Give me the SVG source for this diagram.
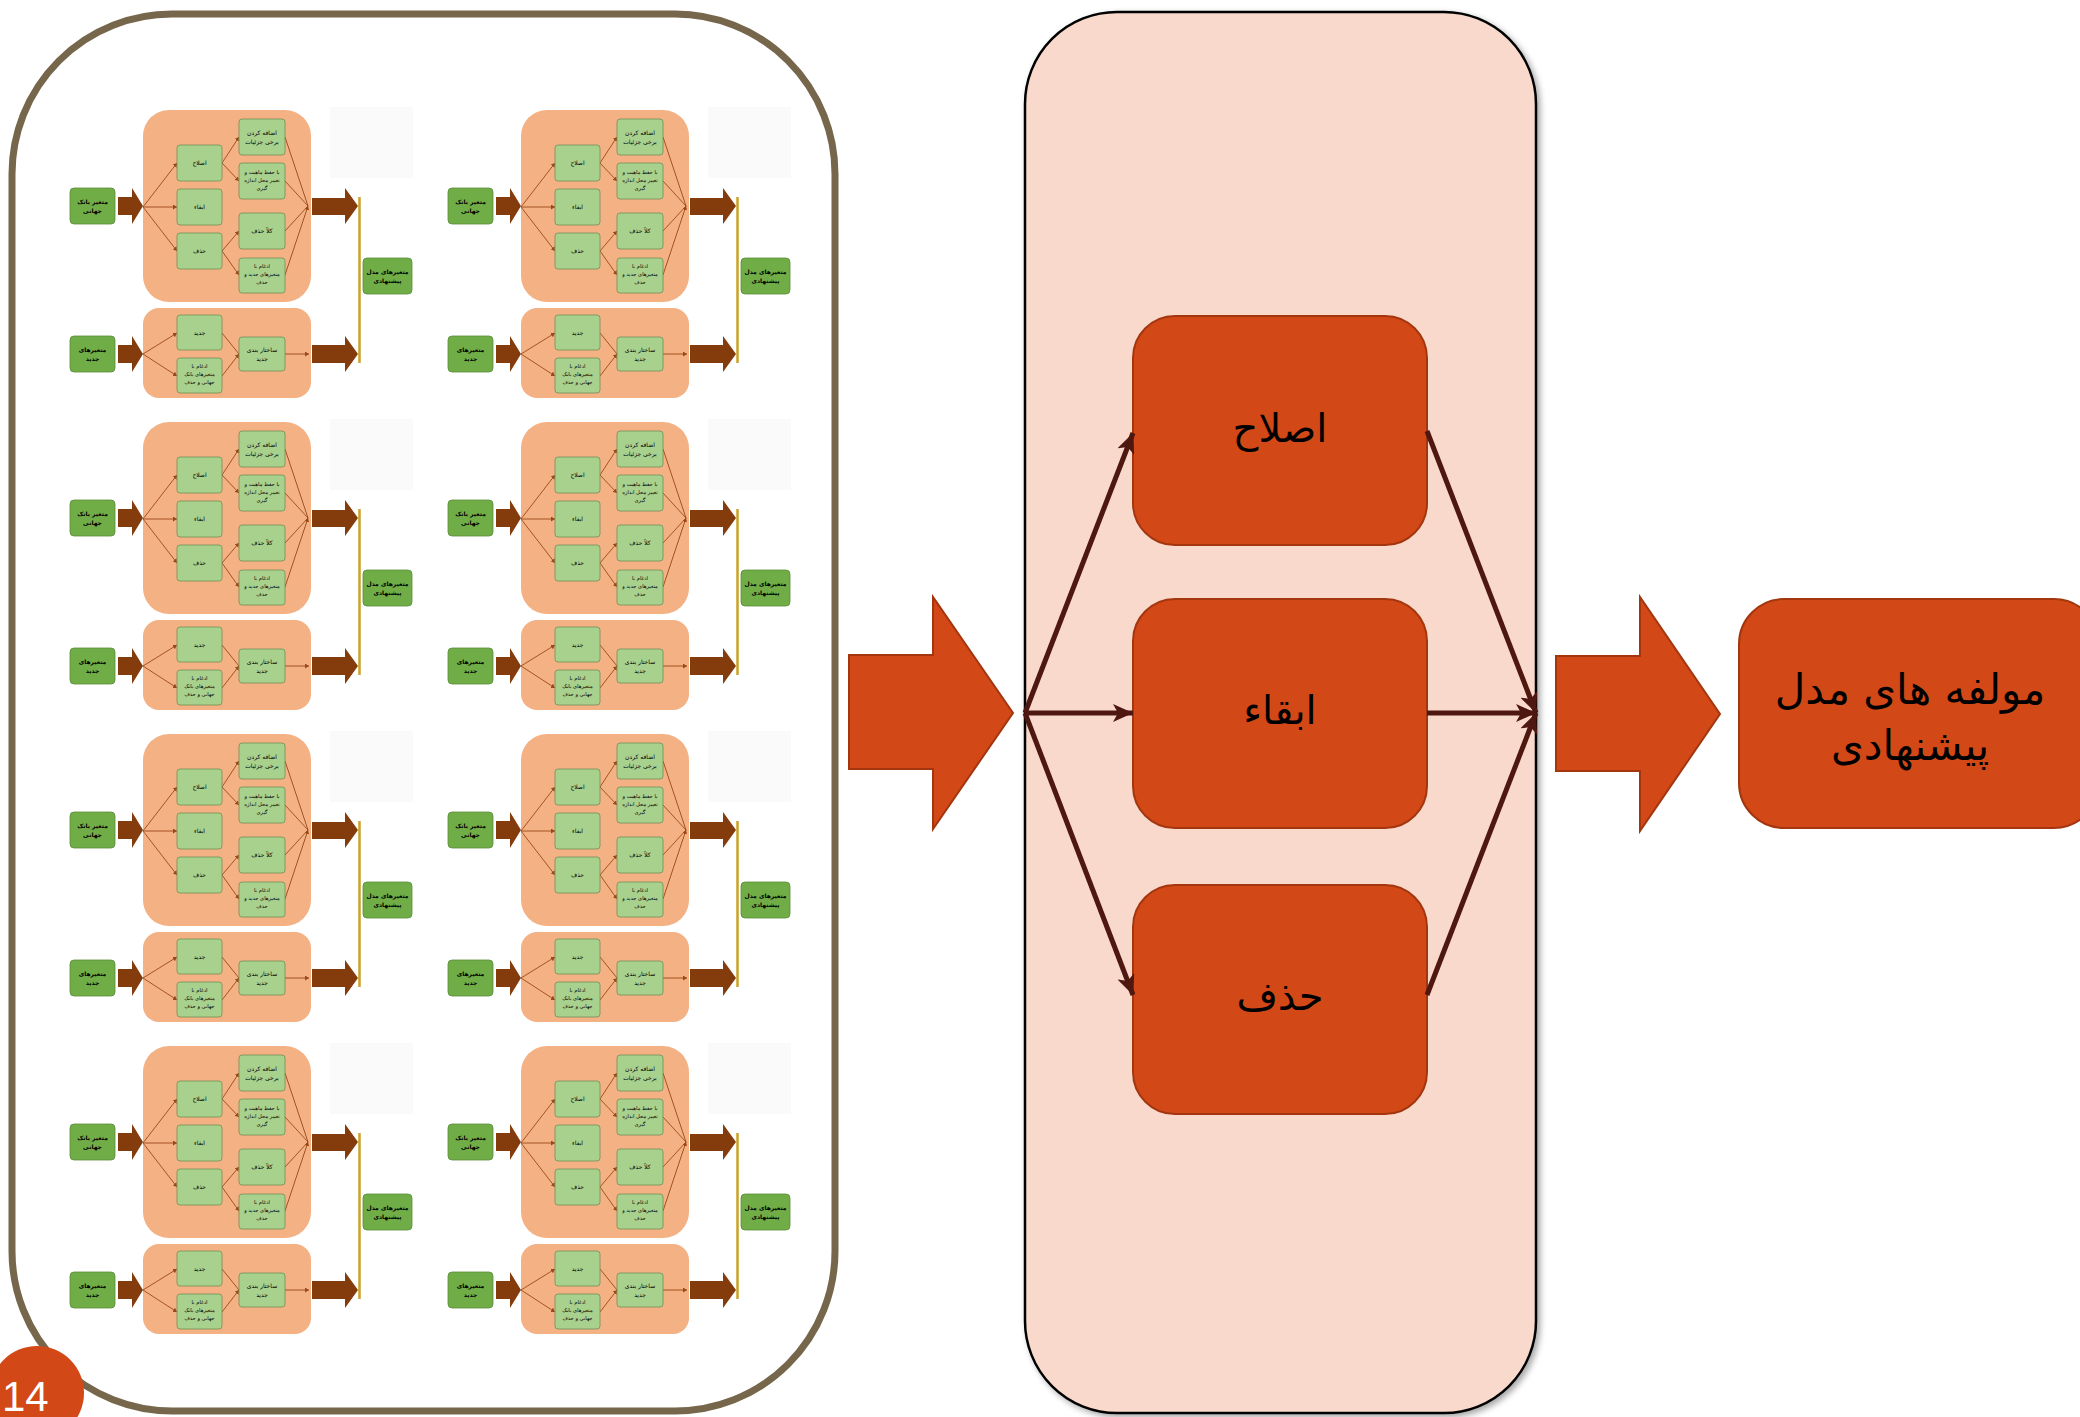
<svg xmlns="http://www.w3.org/2000/svg" xmlns:xlink="http://www.w3.org/1999/xlink" width="2080" height="1417" viewBox="0 0 2080 1417">
<style>
.fa{font-family:"DejaVu Sans","Noto Sans",sans-serif;text-anchor:middle;fill:#000}
.mt{font-size:6px}
.ms{font-size:5.2px}
.mb{font-size:6px;font-weight:bold}
.peach{fill:#F4B183}
.g1{fill:#A9D18E;stroke:#6E8F55;stroke-width:0.8}
.g2{fill:#70AD47;stroke:#5B8C3A;stroke-width:0.8}
.barrow{fill:#843C0C}
.ml{stroke:#9A4818;stroke-width:0.9;fill:none;marker-end:url(#ma)}
.ml0{stroke:#9A4818;stroke-width:0.9;fill:none}
.big{fill:#D34817;stroke:#A3360F;stroke-width:2}
.conn{stroke:#4E1710;stroke-width:5;fill:none;marker-end:url(#ba)}
.lbl{font-family:"DejaVu Sans","Noto Sans",sans-serif;text-anchor:middle;fill:#000;font-size:40px}
</style>
<defs>
<marker id="ma" markerUnits="userSpaceOnUse" markerWidth="5" markerHeight="5" refX="4" refY="2.5" orient="auto">
<path d="M0,0 L4,2.5 L0,5 Z" fill="#9A4818"/>
</marker>
<marker id="ba" markerUnits="userSpaceOnUse" markerWidth="22" markerHeight="18" refX="20" refY="9" orient="auto">
<path d="M0,0 L20,9 L0,18 L5,9 Z" fill="#4E1710"/>
</marker>
<filter id="sh" x="-5%" y="-5%" width="112%" height="112%">
<feDropShadow dx="3" dy="3" stdDeviation="3" flood-color="#000" flood-opacity="0.35"/>
</filter>
<g id="mini">
<rect x="330" y="107" width="83" height="71" fill="#fafafa"/>
<rect class="peach" x="143" y="110" width="168" height="192" rx="26"/>
<rect class="peach" x="143" y="308" width="168" height="90" rx="16"/>
<g class="ml">
<path class="ml" d="M143,207 L177,163"/>
<path class="ml" d="M143,207 L177,207"/>
<path class="ml" d="M143,207 L177,251"/>
<path class="ml" d="M222,163 L239,137"/>
<path class="ml" d="M222,163 L239,181"/>
<path class="ml" d="M222,251 L239,231"/>
<path class="ml" d="M222,251 L239,275"/>
<path class="ml0" d="M285,137 L308,206 M285,181 L308,206 M285,231 L308,206 M285,275 L308,206"/>
<path class="ml" d="M143,354 L177,333"/>
<path class="ml" d="M143,354 L177,376"/>
<path class="ml0" d="M222,333 L239,354 M222,376 L239,354"/>
<path class="ml" d="M285,354 L309,354"/>
</g>
<polygon class="barrow" points="118,197 132,197 132,188 143,206 132,224 132,215 118,215"/>
<polygon class="barrow" points="312,198 345,198 345,188 358,206 345,224 345,215 312,215"/>
<polygon class="barrow" points="118,345 132,345 132,336 143,354 132,372 132,363 118,363"/>
<polygon class="barrow" points="312,345 345,345 345,336 358,354 345,372 345,363 312,363"/>
<line x1="359.5" y1="197" x2="359.5" y2="363" stroke="#C9A227" stroke-width="2.5"/>
<rect class="g2" x="70" y="188" width="45" height="36" rx="4"/>
<rect class="g2" x="70" y="336" width="45" height="36" rx="4"/>
<rect class="g2" x="363" y="258" width="49" height="36" rx="4"/>
<rect class="g1" x="177" y="145" width="45" height="36" rx="3"/>
<rect class="g1" x="177" y="189" width="45" height="36" rx="3"/>
<rect class="g1" x="177" y="233" width="45" height="36" rx="3"/>
<rect class="g1" x="239" y="119" width="46" height="36" rx="3"/>
<rect class="g1" x="239" y="163" width="46" height="36" rx="3"/>
<rect class="g1" x="239" y="213" width="46" height="36" rx="3"/>
<rect class="g1" x="239" y="258" width="46" height="35" rx="3"/>
<rect class="g1" x="177" y="315" width="45" height="35" rx="3"/>
<rect class="g1" x="177" y="358" width="45" height="35" rx="3"/>
<rect class="g1" x="239" y="337" width="46" height="34" rx="3"/>
<text class="fa mb" x="92.5" y="204">متغیر بانک</text>
<text class="fa mb" x="92.5" y="213">جهانی</text>
<text class="fa mb" x="92.5" y="352">متغیرهای</text>
<text class="fa mb" x="92.5" y="361">جدید</text>
<text class="fa mb" x="387.5" y="274">متغیرهای مدل</text>
<text class="fa mb" x="387.5" y="283">پیشنهادی</text>
<text class="fa mt" x="199.5" y="165">اصلاح</text>
<text class="fa mt" x="199.5" y="209">ابقاء</text>
<text class="fa mt" x="199.5" y="253">حذف</text>
<text class="fa mt" x="262" y="135">اضافه کردن</text>
<text class="fa mt" x="262" y="144">برخی جزئیات</text>
<text class="fa ms" x="262" y="174">با حفظ ماهیت و</text>
<text class="fa ms" x="262" y="182">تغییر محل اندازه</text>
<text class="fa ms" x="262" y="190">گیری</text>
<text class="fa mt" x="262" y="233">کلاً حذف</text>
<text class="fa ms" x="262" y="268">ادغام با</text>
<text class="fa ms" x="262" y="276">متغیرهای جدید و</text>
<text class="fa ms" x="262" y="284">حذف</text>
<text class="fa mt" x="199.5" y="334.5">جدید</text>
<text class="fa ms" x="199.5" y="368">ادغام با</text>
<text class="fa ms" x="199.5" y="376">متغیرهای بانک</text>
<text class="fa ms" x="199.5" y="384">جهانی و حذف</text>
<text class="fa mt" x="262" y="352">ساختار بندی</text>
<text class="fa mt" x="262" y="361">جدید</text>
</g>
</defs>
<rect width="2080" height="1417" fill="#fff"/>
<g id="outer-frame">
<rect x="12" y="14" width="823" height="1397" rx="160" ry="160" fill="#fff" stroke="#76664B" stroke-width="7"/>
</g>
<g id="block-1-1"><use href="#mini"/></g>
<g id="block-1-2"><use href="#mini" transform="translate(378,0)"/></g>
<g id="block-2-1"><use href="#mini" transform="translate(0,312)"/></g>
<g id="block-2-2"><use href="#mini" transform="translate(378,312)"/></g>
<g id="block-3-1"><use href="#mini" transform="translate(0,624)"/></g>
<g id="block-3-2"><use href="#mini" transform="translate(378,624)"/></g>
<g id="block-4-1"><use href="#mini" transform="translate(0,936)"/></g>
<g id="block-4-2"><use href="#mini" transform="translate(378,936)"/></g>
<g id="page-number">
<circle cx="37" cy="1393" r="47" fill="#D34817"/>
<text x="2" y="1411" font-family="Liberation Sans, sans-serif" font-size="42" fill="#fff">14</text>
</g>
<g id="arrow-left">
<polygon class="big" points="849,655 933,655 933,597 1013,713 933,829 933,769 849,769"/>
</g>
<g id="decision-panel">
<rect x="1025" y="12" width="511" height="1401" rx="92" ry="92" fill="#F8D9CC" stroke="#000" stroke-width="2.5" filter="url(#sh)"/>
</g>
<g id="node-eslah">
<rect class="big" x="1133" y="316" width="294" height="229" rx="42"/>
<text class="lbl" x="1280" y="442">اصلاح</text>
</g>
<g id="node-ebgha">
<rect class="big" x="1133" y="599" width="294" height="229" rx="42"/>
<text class="lbl" x="1280" y="724">ابقاء</text>
</g>
<g id="node-hazf">
<rect class="big" x="1133" y="885" width="294" height="229" rx="42"/>
<text class="lbl" x="1280" y="1010">حذف</text>
</g>
<g id="connectors">
<path class="conn" d="M1025,713 L1133,433"/>
<path class="conn" d="M1025,713 L1133,713"/>
<path class="conn" d="M1025,713 L1133,995"/>
<path class="conn" d="M1427,431 L1536,713"/>
<path class="conn" d="M1427,713 L1536,713"/>
<path class="conn" d="M1427,995 L1536,713"/>
</g>
<g id="arrow-right">
<polygon class="big" points="1556,656 1640,656 1640,597 1720,714 1640,831 1640,771 1556,771"/>
</g>
<g id="node-result">
<rect class="big" x="1739" y="599" width="360" height="229" rx="45"/>
<text class="lbl" x="1910" y="704" style="font-size:42px">مولفه های مدل</text>
<text class="lbl" x="1910" y="760" style="font-size:42px">پیشنهادی</text>
</g>
</svg>
